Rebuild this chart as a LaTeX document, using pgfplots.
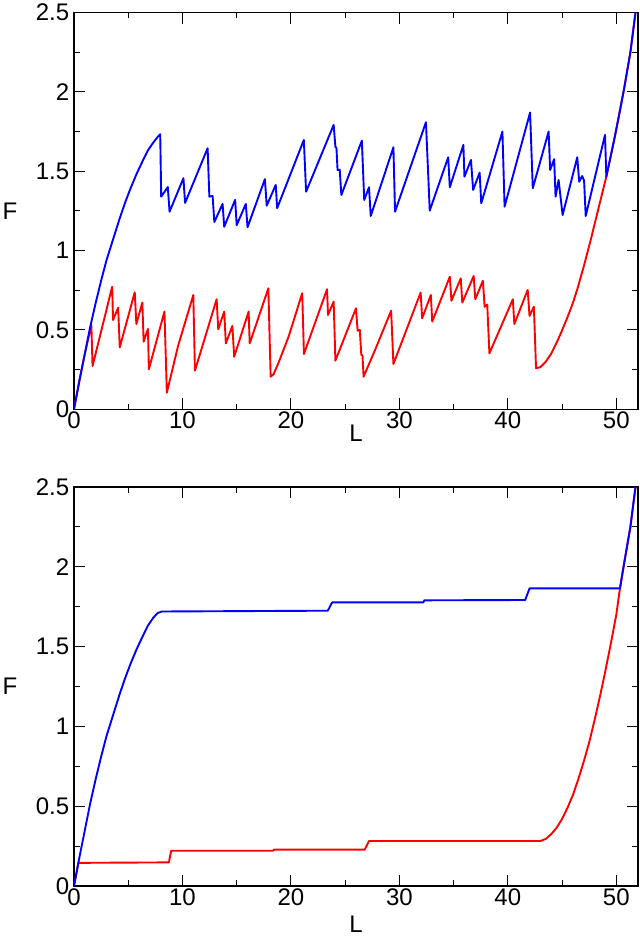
\documentclass[border=0pt]{standalone}
\usepackage{fontspec}
\setmainfont{Liberation Sans}
\usepackage{pgfplots}
\pgfplotsset{compat=1.18}

\pgfplotsset{
  fpanel/.style={
    scale only axis,
    width=282pt,
    xmin=0, xmax=52,
    ymin=0, ymax=2.5,
    xtick={0,10,20,30,40,50},
    ytick={0,0.5,1,1.5,2,2.5},
    yticklabels={0,0.5,1,1.5,2,2.5},
    minor x tick num=1,
    minor y tick num=1,
    tick align=inside,
    major tick length=5.5pt,
    minor tick length=2.8pt,
    axis line style={line width=0.6pt},
    every tick/.style={black, line width=0.5pt},
    /pgf/number format/assume math mode=true,
    tick label style={font=\fontsize{12}{14}\selectfont},
    xticklabel style={inner sep=1.2pt},
    yticklabel style={inner sep=2.2pt},
    every axis y label/.style={at={(axis description cs:0,0.5)}, anchor=center,
      xshift=-32pt, font=\fontsize{12}{14}\selectfont},
    xlabel={L}, ylabel={F},
    clip=true,
  },
  rline/.style={red, line width=0.95pt, line join=round},
  bline/.style={blue, line width=0.95pt, line join=round},
}

\begin{document}
\begin{tikzpicture}
\useasboundingbox (-37pt,-263.9pt) rectangle (283pt,204.6pt);

% upper panel
\begin{axis}[fpanel, height=198.3pt, at={(0,0)}, anchor=south west,
  every axis x label/.style={at={(axis description cs:0.5,0)}, anchor=center,
    yshift=-12pt, font=\fontsize{12}{14}\selectfont}]
\addplot[rline] coordinates {
(0,0) (0.5,0.18) (1,0.35) (1.6,0.53) (1.71,0.272) (3.52,0.772) (3.6,0.562) (4.07,0.64) (4.22,0.39)
(5.6,0.737) (5.75,0.537) (6.3,0.672) (6.42,0.426) (6.82,0.506) (6.9,0.252) (8.34,0.615)
(8.56,0.104) (9.6,0.40) (11.0,0.72) (11.15,0.243) (13.15,0.693) (13.3,0.504) (13.85,0.615)
(14.0,0.415) (14.6,0.525) (14.77,0.331) (16.1,0.615) (16.2,0.415) (17.92,0.762) (18.13,0.205)
(18.4,0.22) (18.9,0.30) (19.8,0.46) (21.04,0.731) (21.2,0.348) (23.33,0.756) (23.42,0.594)
(23.94,0.678) (24.1,0.306) (26.0,0.636) (26.15,0.495) (26.35,0.50) (26.49,0.342) (26.6,0.34)
(26.7,0.205) (27.8,0.38) (29.24,0.621) (29.45,0.285) (31.96,0.735) (32.1,0.573) (32.9,0.72)
(33.03,0.552) (34.65,0.835) (34.8,0.684) (35.66,0.825) (35.8,0.672) (36.85,0.84) (37.0,0.693)
(37.7,0.81) (37.86,0.646) (38.1,0.66) (38.3,0.352) (40.46,0.693) (40.6,0.537) (41.83,0.752)
(42.0,0.588) (42.4,0.646) (42.6,0.258) (43.0,0.265) (43.5,0.30) (44.0,0.35) (44.5,0.42)
(44.89,0.479) (45.5,0.58) (46.0,0.67) (46.42,0.76) (47.0,0.90) (47.64,1.067) (48.3,1.25)
(49.08,1.466) (49.5,1.60) (49.9,1.73) (50.3,1.87) (50.7,2.013) (51.3,2.25) (51.75,2.49)
(52,2.6)
};
\addplot[bline] coordinates {
(0,0) (0.5,0.18) (1,0.35) (1.5,0.52) (2,0.67) (2.5,0.81) (3,0.94) (3.6,1.07) (4.2,1.2)
(4.7,1.30) (5.2,1.39) (5.75,1.48) (6.3,1.56) (6.8,1.63) (7.3,1.68) (7.7,1.715) (7.95,1.733)
(8.04,1.34) (8.65,1.40) (8.81,1.245) (10.09,1.456) (10.24,1.30)
(12.32,1.645) (12.48,1.34) (12.78,1.344) (12.94,1.18) (13.7,1.294) (13.85,1.15) (14.86,1.32)
(15.0,1.16) (15.84,1.294) (16.0,1.147) (17.6,1.45) (17.77,1.283) (18.6,1.414) (18.73,1.267)
(21.19,1.697) (21.4,1.371) (23.94,1.792) (24.1,1.655) (24.2,1.645) (24.3,1.508) (24.5,1.51)
(24.65,1.35) (26.54,1.693) (26.76,1.319) (27.2,1.399) (27.36,1.218) (29.45,1.651) (29.6,1.245)
(32.45,1.809) (32.8,1.252) (34.5,1.588) (34.65,1.399) (35.9,1.666) (36.0,1.466) (36.6,1.571)
(36.8,1.382) (37.4,1.491) (37.55,1.298) (39.5,1.75) (39.7,1.277) (42.05,1.87) (42.3,1.393)
(43.76,1.75) (43.9,1.508) (44.27,1.576) (44.4,1.34) (44.68,1.445) (45.05,1.224) (46.4,1.588)
(46.58,1.434) (46.85,1.47) (47.03,1.441) (47.18,1.218) (48.96,1.729) (49.08,1.466) (49.5,1.60)
(49.9,1.73) (50.3,1.87) (50.7,2.013) (51.3,2.25) (51.75,2.49) (52,2.6)
};
\end{axis}

% lower panel
\begin{axis}[fpanel, height=199.5pt, at={(0,-238.4pt)}, anchor=south west,
  every axis x label/.style={at={(axis description cs:0.5,0)}, anchor=center,
    yshift=-19pt, font=\fontsize{12}{14}\selectfont}]
\addplot[rline] coordinates {
(0,0) (0.4,0.145) (8.75,0.148) (8.96,0.221) (18.35,0.221) (18.45,0.228) (26.8,0.228)
(27.2,0.282) (43.0,0.282) (43.5,0.295) (44.0,0.325) (44.5,0.365) (45.0,0.42) (45.5,0.49)
(46.0,0.57) (46.5,0.67) (47.0,0.78) (47.5,0.90) (48.0,1.04) (48.5,1.19) (49.0,1.35)
(49.5,1.52) (50.0,1.70) (50.34,1.865) (50.7,2.013) (51.3,2.25) (51.75,2.49) (52,2.6)
};
\addplot[bline] coordinates {
(0,0) (0.5,0.18) (1,0.35) (1.5,0.52) (2,0.67) (2.5,0.81) (3,0.94) (3.6,1.07) (4.2,1.2)
(4.7,1.30) (5.2,1.39) (5.75,1.48) (6.3,1.56) (6.8,1.63) (7.3,1.68) (7.7,1.71) (8.1,1.72)
(23.4,1.725) (23.8,1.777) (32.2,1.777) (32.3,1.79) (41.6,1.792) (42.0,1.865) (50.34,1.865)
(50.7,2.013) (51.3,2.25) (51.75,2.49) (52,2.6)
};
\end{axis}
\end{tikzpicture}
\end{document}
